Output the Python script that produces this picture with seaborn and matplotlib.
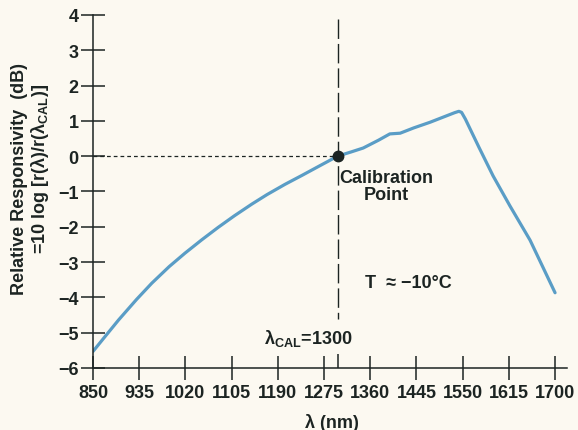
import matplotlib
matplotlib.use("Agg")
import matplotlib.pyplot as plt
import seaborn as sns
import pandas as pd

# ---- data ----
wavelength = [850, 870, 897, 930, 958, 990, 1019, 1050, 1080, 1110, 1142, 1170,
              1203, 1235, 1265, 1300, 1325, 1347, 1375, 1396, 1415, 1440, 1470, 1500,
              1515, 1523, 1528, 1535, 1560, 1586, 1617, 1654, 1700]
responsivity = [-5.53, -5.15, -4.64, -4.06, -3.60, -3.13, -2.75, -2.37, -2.02, -1.69,
                -1.36, -1.09, -0.80, -0.54, -0.29, 0.0, 0.12, 0.23, 0.45, 0.63, 0.65,
                0.80, 0.96, 1.14, 1.23, 1.27, 1.24, 1.05, 0.25, -0.56, -1.41, -2.38,
                -3.87]
xtick_pos = [850, 935, 1020, 1105, 1190, 1275, 1360, 1445, 1530, 1615, 1700]
xtick_labels = ['850', '935', '1020', '1105', '1190', '1275', '1360', '1445',
                '1550', '1615', '1700']
ytick_pos = [-6, -5, -4, -3, -2, -1, 0, 1, 2, 3, 4]
cal_wavelength = 1300
cal_value = 0.0

sns.set_theme(style="ticks")
plt.rcParams['font.family'] = ['Liberation Sans', 'DejaVu Sans']
plt.rcParams['font.weight'] = 'bold'
plt.rcParams['mathtext.fontset'] = 'custom'
plt.rcParams['mathtext.rm'] = 'Liberation Sans:bold'
plt.rcParams['mathtext.it'] = 'Liberation Sans:bold'
plt.rcParams['mathtext.bf'] = 'Liberation Sans:bold'

bg = '#fcf9f1'
ink = '#1c2422'
blue = '#5a9dc6'

fig = plt.figure(figsize=(5.78, 4.31), dpi=100, facecolor=bg)
ax = fig.add_axes([0.161, 0.144, 0.820, 0.819])
ax.set_facecolor(bg)

df = pd.DataFrame({'wl': wavelength, 'r': responsivity})
sns.lineplot(data=df, x='wl', y='r', ax=ax, color=blue, lw=2.3, sort=False)

# calibration guides
ax.plot([850, cal_wavelength], [cal_value, cal_value], color=ink, lw=0.9,
        linestyle=(0, (3, 2.4)))
ax.plot([cal_wavelength, cal_wavelength], [3.88, -4.62], color=ink, lw=1.0,
        linestyle=(0, (14, 3.6)))
ax.plot([cal_wavelength], [cal_value], 'o', color=ink, ms=7.5)

ax.set_xlim(850, 1722)
ax.set_ylim(-6, 4)
ax.set_xticks(xtick_pos)
ax.set_xticklabels(xtick_labels)
ax.set_xticks([cal_wavelength], minor=True)
ax.set_yticks(ytick_pos)
ax.set_yticklabels([str(v).replace('-', '\u2212') for v in ytick_pos])

for s in ['top', 'right']:
    ax.spines[s].set_visible(False)
for s in ['left', 'bottom']:
    ax.spines[s].set_color(ink)
    ax.spines[s].set_linewidth(1.1)

ax.tick_params(axis='both', which='major', direction='inout', length=17, width=1.1,
               color=ink, labelcolor=ink, labelsize=13)
ax.tick_params(axis='y', which='major', pad=2)
ax.tick_params(axis='x', which='major', pad=3)
ax.tick_params(axis='x', which='minor', direction='in', length=10, width=1.1,
               color=ink)
for lab in ax.get_xticklabels() + ax.get_yticklabels():
    lab.set_fontweight('bold')

ax.set_xlabel('')
ax.set_ylabel('')
fig.text(332 / 578, 1 - 423 / 431, 'λ (nm)', ha='center', va='center',
         fontsize=13, fontweight='bold', color=ink)
fig.text(20 / 578, 1 - 179 / 431, 'Relative Responsivity  (dB)', rotation=90,
         ha='center', va='center', fontsize=13, fontweight='bold', color=ink)
fig.text(40 / 578, 1 - 169 / 431, r'=10 log [r(λ)/r(λ$_{\mathrm{CAL}}$)]',
         rotation=90, ha='center', va='center', fontsize=13, fontweight='bold',
         color=ink)

ax.text(1390, -0.85, 'Calibration\nPoint', ha='center', va='center',
        fontsize=13, fontweight='bold', color=ink, linespacing=1.0)
ax.text(1431, -3.58, 'T  \u2248 \u221210\u00b0C', ha='center', va='center',
        fontsize=13, fontweight='bold', color=ink)
ax.text(1246, -5.15, r'λ$_{\mathrm{CAL}}$=1300', ha='center', va='center',
        fontsize=13, fontweight='bold', color=ink)

fig.savefig('out.png', dpi=100, facecolor=bg)
